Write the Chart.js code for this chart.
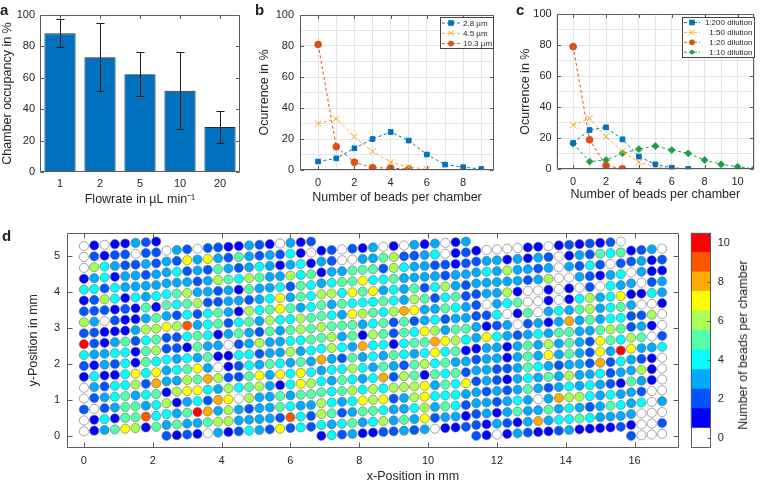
<!DOCTYPE html>
<html>
<head>
<meta charset="utf-8">
<script src="https://cdn.jsdelivr.net/npm/chart.js@4.4.1/dist/chart.umd.min.js"></script>
<style>
    body {
        margin: 0;
        background: #fff;
        font-family: 'Liberation Sans', Arial, Helvetica, sans-serif;
        color: #1e1e1e;
    }

    .stage {
        position: relative;
        width: 760px;
        height: 482px;
        overflow: hidden;
    }

    .stage canvas {
        position: absolute;
        left: 0;
        top: 0;
    }

    .panel-letter {
        position: absolute;
        font-weight: bold;
        font-size: 15px;
        line-height: 15px;
    }

    .axis-title {
        position: absolute;
        font-size: 12.5px;
        line-height: 14px;
        white-space: nowrap;
        color: #262626;
    }
</style>
</head>
<body>
<div class="stage">
    <canvas id="chartA" width="760" height="482"></canvas>
    <canvas id="chartB" width="760" height="482"></canvas>
    <canvas id="chartC" width="760" height="482"></canvas>
    <canvas id="chartD" width="760" height="482"></canvas>
    <canvas id="chartBar" width="760" height="482"></canvas>

    <div class="panel-letter" style="left:0px; top:2px;">a</div>
    <div class="panel-letter" style="left:255px; top:2px;">b</div>
    <div class="panel-letter" style="left:516px; top:2px;">c</div>
    <div class="panel-letter" style="left:2px; top:228px;">d</div>

    <div class="axis-title" style="left:413px; top:476px; transform: translate(-50%, -50%);">x-Position in mm</div>
    <div class="axis-title" style="left:743px; top:345px; transform: translate(-50%, -50%) rotate(-90deg);">Number of beads per chamber</div>
</div>

<script>
    // ---- panel a: occupancy vs flow rate ----
    const flowRates = ['1', '2', '5', '10', '20'];
    const occupancy = [88.3, 73.1, 62.3, 51.7, 28.6];
    const occupancySd = [9.0, 21.6, 14.1, 24.5, 10.3];
    const percentTicks = [0, 20, 40, 60, 80, 100];
    const percentGrid = [0, 10, 20, 30, 40, 50, 60, 70, 80, 90, 100];

    // ---- panel b: bead sizes ----
    const beadCounts = [0, 1, 2, 3, 4, 5, 6, 7, 8, 9, 10, 11];
    const bead28 = [5.5, 7.5, 14, 20, 24.5, 19, 10, 3.5, 1.8, 0.7];
    const bead45 = [30, 33, 21.5, 12, 5, 2, 0.5];
    const bead103 = [81, 15, 5, 1.5, 1.2, 0.6];
    const countTicksB = [0, 2, 4, 6, 8];
    const countGridB = [-1, 0, 1, 2, 3, 4, 5, 6, 7, 8, 9];

    // ---- panel c: dilutions ----
    const dil200 = [17, 25.3, 27, 19.3, 8.2, 3.2, 1, 0.3];
    const dil50 = [28.5, 32.8, 21, 11.5, 4.5, 1.7, 0.3];
    const dil20 = [79, 19, 2.4, 0.3];
    const dil10 = [16.5, 5, 6, 10.3, 13, 15, 12.4, 10.3, 6, 3.2, 1.7, 0.3];
    const countTicksC = [0, 2, 4, 6, 8, 10];
    const countGridC = [-1, 0, 1, 2, 3, 4, 5, 6, 7, 8, 9, 10, 11];

    // ---- panel d: beads per chamber, one string per chamber row (top row first),
    // one character per column, A = 10 ----
    const chamberRows = [
        '01011321 032022113210312 120213010313013 100001101212120 1230',
        '02122022 327373253232410 320033562234012 233131320132545 2312',
        '06432232 342325323431341 133555264332212 343633230324202 0311',
        '13413323 333236546533645 345574453333233 333332360032134 3023',
        '44243333 456332315334254 664757343524632 233610010102043 1143',
        '12641434 545622332347354 535444543652452 203450010146347 3001',
        '22212151 324245316457534 543765468733543 224015034356345 2260',
        '63021135 769345245364465 655534525234233 312302313835344 2310',
        '22111366 224541353253565 563516525476355 374323435533565 6502',
        'A2135245 221533023633445 464384414558764 133135363532754 7334',
        '43344156 434351144233634 832534354347451 23313537353273A 3210',
        '21324154 345730124354353 344643532564533 332235432332824 3610',
        '14114747 336586225737474 435434826515452 232134353633423 5310',
        '03244628 167743645631476 545646466673547 323235323434321 3200',
        '02345345 613428706335355 643476723674443 332343038664343 3403',
        '20235534 435A83632335433 652355433463542 231353353432354 3000',
        '01415594 353356633332942 434534635372331 213213834454333 1002',
        '01357615 212103124327242 142311223230112 210132112311112 2000'
    ];
    const posXTicks = [0, 2, 4, 6, 8, 10, 12, 14, 16];
    const posYTicks = [0, 1, 2, 3, 4, 5];
    const levels = [0, 1, 2, 3, 4, 5, 6, 7, 8, 9, 10];
    const levelTicks = [0, 2, 4, 6, 8, 10];

    const levelColors = ['#ffffff', '#0000ff', '#0055ff', '#00aaff', '#00ffff', '#55ffaa',
                         '#aaff55', '#ffff00', '#ffaa00', '#ff5500', '#ff0000'];
    const blue = '#0072bd', orange = '#d95319', yellow = '#edb120', green = '#1e9e4a';
    const gridColor = '#e4e4e4';
    const frameColor = '#5a5a5a';

    Chart.defaults.font.family = "'Liberation Sans', Arial, Helvetica, sans-serif";
    Chart.defaults.font.size = 11;
    Chart.defaults.color = '#262626';
    Chart.defaults.animation = false;
    Chart.defaults.responsive = false;
    Chart.defaults.plugins.legend.display = false;
    Chart.defaults.plugins.tooltip.enabled = false;

    // chamber layout: 0.3 mm pitch, imaged in tiles of 15 columns that are slightly tilted
    const pitchX = 0.3, pitchY = 0.303, tileCols = 15, tilePhase = 7, tileTilt = 0.018;
    const chamberPoints = [];
    chamberRows.forEach((row, r) => {
        const cells = row.replace(/\s/g, '');
        if (cells.length !== 57) console.error('row', r, 'has', cells.length);
        const k = chamberRows.length - 1 - r;
        [...cells].forEach((ch, j) => {
            chamberPoints.push({
                x: j * pitchX,
                y: ((j + tilePhase) % tileCols) * tileTilt + k * pitchY,
                v: parseInt(ch, 16)
            });
        });
    });

    function fixedTicks(vals) {
        return scale => { scale.ticks = vals.map(v => ({ value: v })); };
    }

    function fixedSize(size) {
        return scale => {
            if (scale.isHorizontal()) scale.height = size;
            else scale.width = size;
        };
    }

    // box round the plot with small inward ticks
    const frame = {
        id: 'frame',
        afterDatasetsDraw(chart, args, o) {
            const { ctx, chartArea: a, scales } = chart;
            const L = o.len || 0;
            const sides = o.sides || ['left', 'right', 'top', 'bottom'];
            const l = Math.round(a.left) + 0.5, r = Math.round(a.right) - 0.5;
            const t = Math.round(a.top) + 0.5, b = Math.round(a.bottom) - 0.5;
            ctx.save();
            ctx.strokeStyle = o.color;
            ctx.lineWidth = 1;
            ctx.beginPath();
            (o.xTicks || []).forEach(v => {
                const p = Math.round(scales.x.getPixelForValue(v)) + 0.5;
                if (sides.includes('bottom')) { ctx.moveTo(p, b); ctx.lineTo(p, b - L); }
                if (sides.includes('top')) { ctx.moveTo(p, t); ctx.lineTo(p, t + L); }
            });
            (o.yTicks || []).forEach(v => {
                const p = Math.round(scales.y.getPixelForValue(v)) + 0.5;
                if (sides.includes('left')) { ctx.moveTo(l, p); ctx.lineTo(l + L, p); }
                if (sides.includes('right')) { ctx.moveTo(r, p); ctx.lineTo(r - L, p); }
            });
            ctx.rect(l, t, r - l, b - t);
            ctx.stroke();
            ctx.restore();
        }
    };

    const errorBars = {
        id: 'errorBars',
        afterDatasetsDraw(chart, args, o) {
            const { ctx } = chart;
            const y = chart.scales.y;
            const values = chart.data.datasets[0].data;
            ctx.save();
            ctx.strokeStyle = o.color;
            ctx.lineWidth = 1;
            chart.getDatasetMeta(0).data.forEach((bar, i) => {
                const x = Math.round(bar.x) + 0.5;
                const hi = Math.round(y.getPixelForValue(values[i] + o.errors[i])) + 0.5;
                const lo = Math.round(y.getPixelForValue(values[i] - o.errors[i])) + 0.5;
                ctx.beginPath();
                ctx.moveTo(x, hi); ctx.lineTo(x, lo);
                ctx.moveTo(x - o.cap, hi); ctx.lineTo(x + o.cap, hi);
                ctx.moveTo(x - o.cap, lo); ctx.lineTo(x + o.cap, lo);
                ctx.stroke();
            });
            ctx.restore();
        }
    };

    function drawMarker(ctx, style, x, y, r) {
        ctx.beginPath();
        if (style === 'rect') {
            ctx.rect(x - r, y - r, 2 * r, 2 * r);
            ctx.fill();
        } else if (style === 'circle') {
            ctx.arc(x, y, r, 0, Math.PI * 2);
            ctx.fill();
        } else if (style === 'rectRot') {
            ctx.moveTo(x, y - r); ctx.lineTo(x + r, y); ctx.lineTo(x, y + r); ctx.lineTo(x - r, y);
            ctx.closePath();
            ctx.fill();
        } else {
            const d = r * 0.75;
            ctx.moveTo(x - d, y - d); ctx.lineTo(x + d, y + d);
            ctx.moveTo(x - d, y + d); ctx.lineTo(x + d, y - d);
            ctx.stroke();
        }
    }

    // legend box inside the plot, like the original figure
    const boxLegend = {
        id: 'boxLegend',
        afterDraw(chart, args, o) {
            const { ctx } = chart;
            ctx.save();
            ctx.fillStyle = '#fff';
            ctx.fillRect(o.x, o.y, o.w, o.h);
            ctx.strokeStyle = '#444';
            ctx.lineWidth = 1;
            ctx.strokeRect(o.x + 0.5, o.y + 0.5, o.w, o.h);
            ctx.font = "8px 'Liberation Sans', Arial, sans-serif";
            ctx.textBaseline = 'middle';
            chart.data.datasets.forEach((ds, i) => {
                const cy = o.y + o.first + i * o.step;
                ctx.strokeStyle = ds.borderColor;
                ctx.setLineDash([3, 2]);
                ctx.beginPath();
                ctx.moveTo(o.x + 2, cy); ctx.lineTo(o.x + 2 + o.lineW, cy);
                ctx.stroke();
                ctx.setLineDash([]);
                ctx.fillStyle = ds.pointBorderColor;
                ctx.strokeStyle = ds.pointBorderColor;
                drawMarker(ctx, ds.pointStyle, o.x + 2 + o.lineW / 2, cy, ds.pointRadius * 0.85);
                ctx.fillStyle = '#1e1e1e';
                if (o.alignRight) {
                    ctx.textAlign = 'right';
                    ctx.fillText(ds.label, o.x + o.w - 1.5, cy + 0.5);
                } else {
                    ctx.textAlign = 'left';
                    ctx.fillText(ds.label, o.x + o.lineW + 5, cy + 0.5);
                }
            });
            ctx.restore();
        }
    };

    function series(label, values, color, style, r) {
        return {
            label: label,
            data: values.map((v, i) => ({ x: beadCounts[i], y: v })),
            borderColor: color,
            borderWidth: 1,
            borderDash: [3, 2.5],
            pointStyle: style,
            pointRadius: r,
            pointBackgroundColor: color,
            pointBorderColor: color,
            pointBorderWidth: 1,
            tension: 0,
            fill: false
        };
    }

    function percentAxis(width, padding, titlePad) {
        return {
            min: 0,
            max: 100,
            afterBuildTicks: fixedTicks(percentGrid),
            afterFit: fixedSize(width),
            grid: { color: gridColor, drawTicks: false },
            border: { display: false },
            ticks: { padding: padding, autoSkip: false, callback: v => percentTicks.includes(v) ? v : '' },
            title: { display: true, text: 'Ocurrence in %', font: { size: 12.5 }, padding: { top: titlePad } }
        };
    }

    function countAxis(min, max, grid, labels, height, title) {
        return {
            type: 'linear',
            min: min,
            max: max,
            afterBuildTicks: fixedTicks(grid),
            afterFit: fixedSize(height),
            grid: { color: gridColor, drawTicks: false },
            border: { display: false },
            ticks: { padding: 6, autoSkip: false, maxRotation: 0, callback: v => labels.includes(v) ? v : '' },
            title: { display: true, text: title, font: { size: 12.5 }, padding: 0 }
        };
    }

    const noGrid = { display: false, drawTicks: false };

    // ---- a ----
    new Chart(document.getElementById('chartA'), {
        type: 'bar',
        data: {
            labels: flowRates,
            datasets: [{
                data: occupancy,
                backgroundColor: blue,
                borderColor: '#2a2a2a',
                borderWidth: 0.8,
                barPercentage: 0.78,
                categoryPercentage: 1
            }]
        },
        options: {
            layout: { autoPadding: false, padding: { left: 0, top: 15, right: 520, bottom: 275 } },
            scales: {
                x: {
                    afterFit: fixedSize(35),
                    grid: noGrid,
                    border: { display: false },
                    ticks: { padding: 5 },
                    title: { display: true, text: 'Flowrate in µL min⁻¹', font: { size: 12.5 }, padding: 0 }
                },
                y: {
                    min: 0,
                    max: 100,
                    afterBuildTicks: fixedTicks(percentTicks),
                    afterFit: fixedSize(40),
                    grid: noGrid,
                    border: { display: false },
                    ticks: { padding: 5 },
                    title: { display: true, text: 'Chamber occupancy in %', font: { size: 12.5 }, padding: 0 }
                }
            },
            plugins: {
                frame: { color: frameColor, len: 3.5, xTicks: [0, 1, 2, 3, 4], yTicks: percentTicks },
                errorBars: { errors: occupancySd, cap: 4, color: '#1a1a1a' }
            }
        },
        plugins: [frame, errorBars]
    });

    // ---- b ----
    new Chart(document.getElementById('chartB'), {
        type: 'line',
        data: {
            datasets: [
                series('2.8 µm', bead28, blue, 'rect', 3.3),
                series('4.5 µm', bead45, yellow, 'crossRot', 4.5),
                series('10.3 µm', bead103, orange, 'circle', 3.4)
            ]
        },
        options: {
            layout: { autoPadding: false, padding: { left: 255, top: 15, right: 266, bottom: 277 } },
            scales: {
                x: countAxis(-1, 9.7, countGridB, countTicksB, 35, 'Number of beads per chamber'),
                y: percentAxis(45, 6, 2)
            },
            plugins: {
                frame: { color: frameColor, len: 3.5, xTicks: countTicksB, yTicks: percentTicks },
                boxLegend: { x: 440, y: 17, w: 53, h: 31, first: 6, step: 10.3, lineW: 18 }
            }
        },
        plugins: [frame, boxLegend]
    });

    // ---- c ----
    new Chart(document.getElementById('chartC'), {
        type: 'line',
        data: {
            datasets: [
                series('1:200 dilution', dil200, blue, 'rect', 3.3),
                series('1:50 dilution', dil50, yellow, 'crossRot', 4.5),
                series('1:20 dilution', dil20, orange, 'circle', 3.4),
                series('1:10 dilution', dil10, green, 'rectRot', 3.4)
            ]
        },
        options: {
            layout: { autoPadding: false, padding: { left: 516.7, top: 14, right: 1, bottom: 279.7 } },
            scales: {
                x: countAxis(-1, 11, countGridC, countTicksC, 33, 'Number of beads per chamber'),
                y: percentAxis(40, 5, 1)
            },
            plugins: {
                frame: { color: frameColor, len: 3.5, xTicks: countTicksC, yTicks: percentTicks },
                boxLegend: { x: 682, y: 17, w: 72, h: 40, first: 5.5, step: 9.9, lineW: 16, alignRight: true }
            }
        },
        plugins: [frame, boxLegend]
    });

    // ---- d ----
    new Chart(document.getElementById('chartD'), {
        type: 'scatter',
        data: {
            datasets: [{
                data: chamberPoints,
                pointRadius: 4.6,
                pointBorderWidth: 0.6,
                pointBorderColor: '#6a6a6a',
                pointBackgroundColor: chamberPoints.map(p => levelColors[p.v])
            }]
        },
        options: {
            layout: { autoPadding: false, padding: { left: 20, top: 232.7, right: 80.7, bottom: 14.3 } },
            scales: {
                x: {
                    type: 'linear',
                    min: -0.5,
                    max: 17.3,
                    afterBuildTicks: fixedTicks(posXTicks),
                    afterFit: fixedSize(20),
                    grid: noGrid,
                    border: { display: false },
                    ticks: { padding: 7, autoSkip: false, maxRotation: 0 }
                },
                y: {
                    min: -0.33,
                    max: 5.65,
                    afterBuildTicks: fixedTicks(posYTicks),
                    afterFit: fixedSize(46.7),
                    grid: noGrid,
                    border: { display: false },
                    ticks: { padding: 6.5 },
                    title: { display: true, text: 'y-Position in mm', font: { size: 12.5 }, padding: { top: 6 } }
                }
            },
            plugins: {
                frame: { color: frameColor, len: 5, xTicks: posXTicks, yTicks: posYTicks }
            }
        },
        plugins: [frame]
    });

    // ---- colour bar ----
    new Chart(document.getElementById('chartBar'), {
        type: 'bar',
        data: {
            labels: [''],
            datasets: levels.map(v => ({
                data: [[v - 0.5, v + 0.5]],
                backgroundColor: levelColors[v],
                borderWidth: 0,
                barPercentage: 1,
                categoryPercentage: 1,
                grouped: false
            }))
        },
        options: {
            layout: { autoPadding: false, padding: { left: 690.7, top: 232.7, right: 9, bottom: 34.3 } },
            scales: {
                x: { display: false },
                y: {
                    position: 'right',
                    min: -0.5,
                    max: 10.5,
                    afterBuildTicks: fixedTicks(levelTicks),
                    afterFit: fixedSize(40.3),
                    grid: noGrid,
                    border: { display: false },
                    ticks: { padding: 7 }
                }
            },
            plugins: {
                frame: { color: frameColor, len: 3, yTicks: levelTicks, sides: ['right'] }
            }
        },
        plugins: [frame]
    });
</script>
</body>
</html>
